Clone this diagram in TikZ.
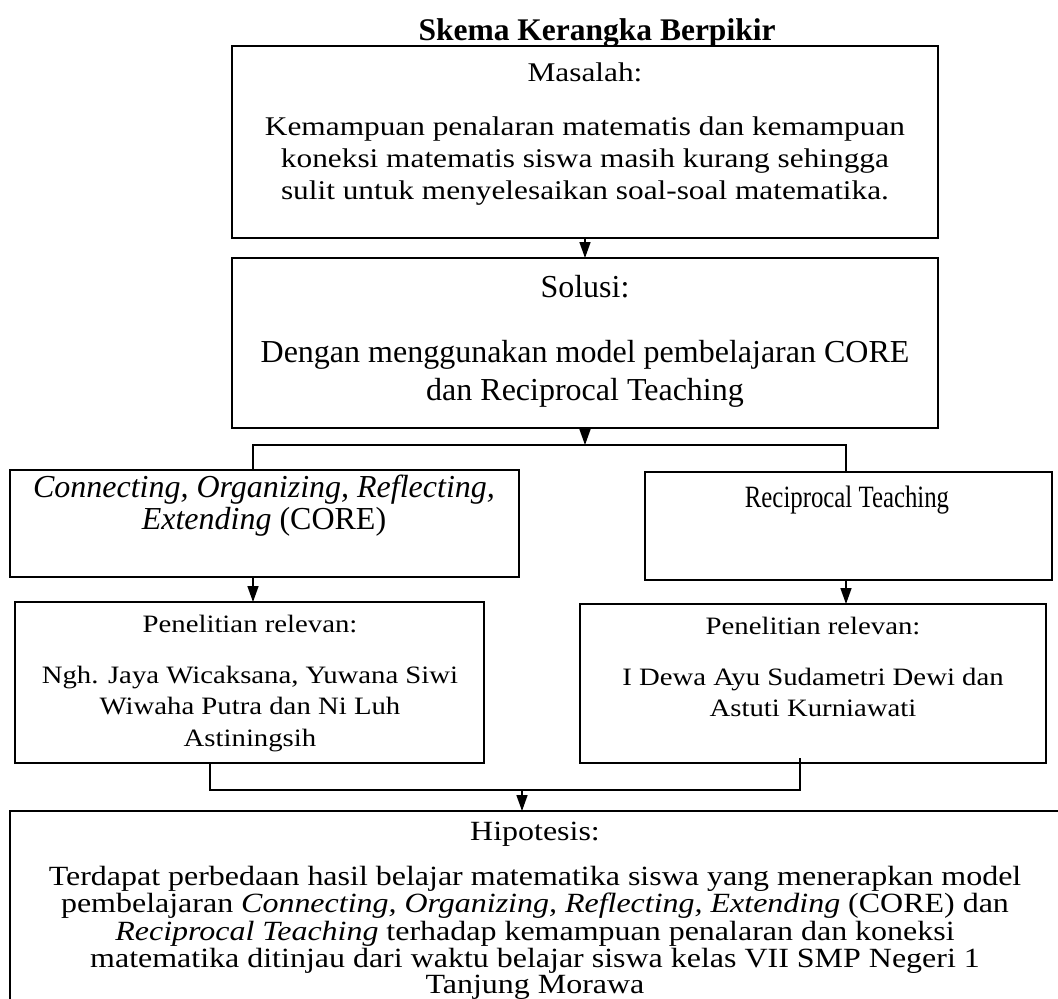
\documentclass[tikz,border=0pt]{standalone}
\usepackage{fontspec}
\setmainfont{Liberation Serif}
\newfontfamily\condfont[FakeStretch=0.80]{Liberation Serif}
\newfontfamily\widefont[FakeStretch=1.15]{Liberation Serif}
\newfontfamily\mwidefont[FakeStretch=1.16]{Liberation Serif}
\usetikzlibrary{arrows.meta}
\tikzset{
  box/.style={draw=black, line width=1.6pt, rectangle, inner sep=0pt, outer sep=0pt, anchor=north west},
  txt/.style={anchor=base, inner sep=0pt, outer sep=0pt},
  conn/.style={draw=black, line width=1.5pt},
  arr/.style={conn, -{Triangle[length=16pt,width=11pt]}, shorten >=0pt},
  titlef/.style={font=\fontsize{31.5}{34}\selectfont\bfseries},
  masf/.style={font=\mwidefont\fontsize{27}{31}\selectfont},
  solf/.style={font=\fontsize{32}{36}\selectfont},
  coref/.style={font=\fontsize{32}{34}\selectfont},
  recf/.style={font=\condfont\fontsize{31}{32}\selectfont},
  penf/.style={font=\widefont\fontsize{25}{30}\selectfont},
  hipf/.style={font=\widefont\fontsize{27.8}{30}\selectfont}
}
\begin{document}
\begin{tikzpicture}[x=1pt,y=-1pt]
\useasboundingbox (0,0) rectangle (1058,999);
\clip (0,0) rectangle (1058,999);
\fill[white] (0,0) rectangle (1058,999);

% title
\node[txt,titlef] (title) at (597,40) {Skema Kerangka Berpikir};

% Masalah
\node[box, minimum width=706pt, minimum height=192pt] (masalah) at (232,46) {};
\node[txt,masf] (m0) at (585,81) {Masalah:};
\node[txt,masf] (m1) at (585,135) {Kemampuan penalaran matematis dan kemampuan};
\node[txt,masf] (m2) at (585,167) {koneksi matematis siswa masih kurang sehingga};
\node[txt,masf] (m3) at (585,199) {sulit untuk menyelesaikan soal-soal matematika.};

% Solusi
\node[box, minimum width=706pt, minimum height=170pt] (solusi) at (232,258) {};
\node[txt,solf] (s0) at (585,297) {Solusi:};
\node[txt,solf] (s1) at (585,362) {Dengan menggunakan model pembelajaran CORE};
\node[txt,solf] (s2) at (585,400) {dan Reciprocal Teaching};

% CORE
\node[box, minimum width=509pt, minimum height=107pt] (core) at (10,470) {};
\node[txt,coref] (c1) at (264,497) {\itshape Connecting, Organizing, Reflecting,};
\node[txt,coref] (c2) at (264,529) {\itshape Extending\/ \upshape(CORE)};

% Reciprocal Teaching
\node[box, minimum width=407pt, minimum height=108pt] (rec) at (645,472) {};
\node[txt,recf] (r1) at (847,507) {Reciprocal Teaching};

% Penelitian left
\node[box, minimum width=469pt, minimum height=161pt] (penL) at (15,602) {};
\node[txt,penf] (pl0) at (250,632) {Penelitian relevan:};
\node[txt,penf] (pl1) at (250,683) {Ngh. Jaya Wicaksana, Yuwana Siwi};
\node[txt,penf] (pl2) at (250,714) {Wiwaha Putra dan Ni Luh};
\node[txt,penf] (pl3) at (250,746) {Astiningsih};

% Penelitian right
\node[box, minimum width=466pt, minimum height=159pt] (penR) at (580,604) {};
\node[txt,penf] (pr0) at (813,634) {Penelitian relevan:};
\node[txt,penf] (pr1) at (813,685) {I Dewa Ayu Sudametri Dewi dan};
\node[txt,penf] (pr2) at (813,716) {Astuti Kurniawati};

% Hipotesis
\node[box, minimum width=1070pt, minimum height=220pt] (hip) at (10,811) {};
\node[txt,hipf] (h0) at (535,840) {Hipotesis:};
\node[txt,hipf] (h1) at (535,885) {Terdapat perbedaan hasil belajar matematika siswa yang menerapkan model};
\node[txt,hipf] (h2) at (535,912.5) {pembelajaran \textit{Connecting, Organizing, Reflecting, Extending} (CORE) dan};
\node[txt,hipf] (h3) at (535,940) {\textit{Reciprocal Teaching} terhadap kemampuan penalaran dan koneksi};
\node[txt,hipf] (h4) at (535,967) {matematika ditinjau dari waktu belajar siswa kelas VII SMP Negeri 1};
\node[txt,hipf] (h5) at (535,993) {Tanjung Morawa};

% connectors
\coordinate (split) at (585,445);
\coordinate (bl) at (253,445);
\coordinate (br) at (846,445);
\coordinate (ml) at (210,790);
\coordinate (mr) at (800,790);
\coordinate (mm) at (522,790);

\draw[arr] (masalah) -- (solusi);
\draw[arr] (solusi.south) -- (split);
\draw[conn] (bl |- core.north) -- (bl) -- (br) -- (br |- rec.north);
\draw[arr] (core.south -| bl) -- (penL.north -| bl);
\draw[arr] (rec.south -| br) -- (penR.north -| br);
\draw[conn] (penL.south -| ml) -- (ml) -- (mr) -- ([yshift=5pt]penR.south -| mr);
\draw[arr] (mm) -- (mm |- hip.north);
\end{tikzpicture}
\end{document}
